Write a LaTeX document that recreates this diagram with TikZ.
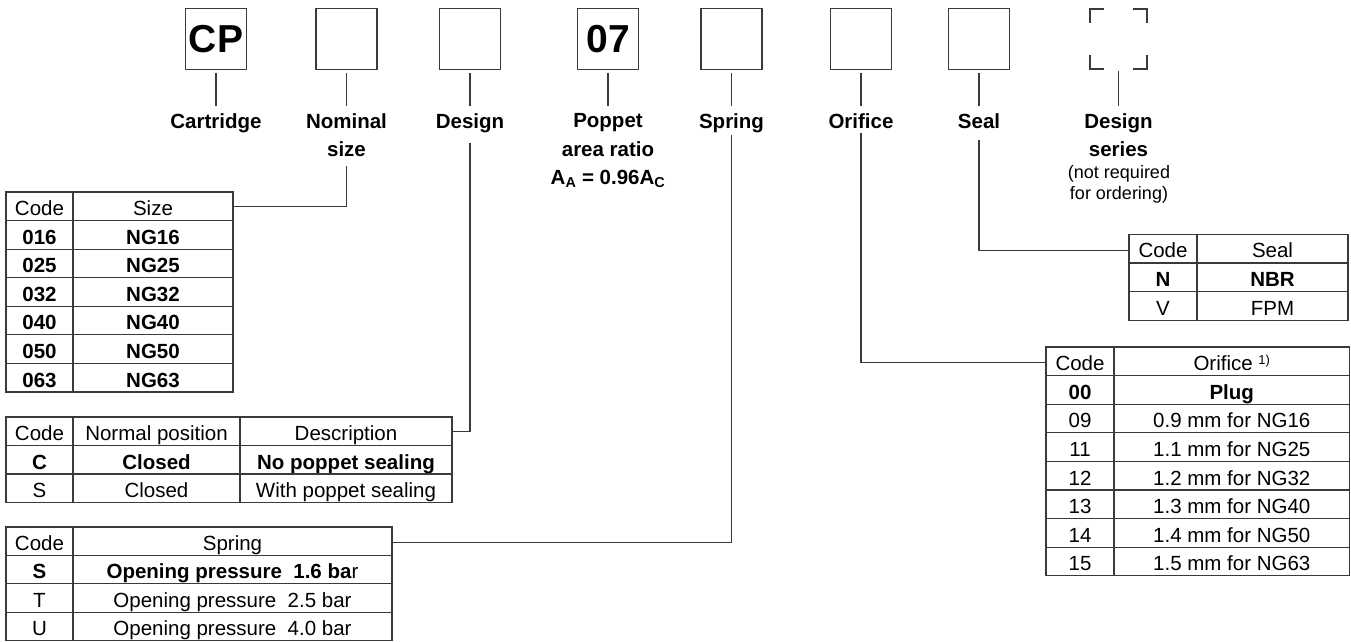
\documentclass[tikz,border=0pt]{standalone}
\usepackage{fontspec}
\setmainfont{Liberation Sans}
\definecolor{lc}{HTML}{3A3A3A}
\tikzset{
  conn/.style={draw=lc, line width=1.2pt},
  codebox/.style={draw=lc, line width=1.3pt, minimum width=61pt, minimum height=61pt, inner sep=0pt, outer sep=0pt, font=\fontsize{39}{40}\selectfont\bfseries},
  openbox/.style={minimum width=57pt, minimum height=60pt, inner sep=0pt, outer sep=0pt},
  lbl/.style={anchor=north, inner sep=0pt, align=center, font=\fontsize{20.5}{28.5}\selectfont\bfseries},
  note/.style={anchor=north, inner sep=0pt, align=center, font=\fontsize{18}{21}\selectfont},
  cell/.style={draw=lc, line width=1.2pt, anchor=north west, inner sep=0pt, outer sep=0pt, minimum height=28.6pt, text height=18.6pt, text depth=0pt, font=\fontsize{20.5}{24}\selectfont},
  bcell/.style={cell, font=\fontsize{20.5}{24}\selectfont\bfseries},
}
\begin{document}
\begin{tikzpicture}[x=1pt, y=-1pt]
\path[fill=white, use as bounding box] (0,0) rectangle (1351,641);

% ---- top code boxes
\node[codebox] (bcp)   at (216,39)   {CP};
\node[codebox] (bnom)  at (346.5,39) {};
\node[codebox] (bdes)  at (470,39)   {};
\node[codebox] (b07)   at (608,39)   {07};
\node[codebox] (bspr)  at (731.5,39) {};
\node[codebox] (bori)  at (861,39)   {};
\node[codebox] (bseal) at (979,39) {};
\node[openbox] (ds)    at (1118.5,39) {};
\draw[conn] ([yshift=-14pt]ds.north west) -- (ds.north west) -- ([xshift=14pt]ds.north west);
\draw[conn] ([yshift=-14pt]ds.north east) -- (ds.north east) -- ([xshift=-14pt]ds.north east);
\draw[conn] ([yshift=14pt]ds.south west) -- (ds.south west) -- ([xshift=14pt]ds.south west);
\draw[conn] ([yshift=14pt]ds.south east) -- (ds.south east) -- ([xshift=-14pt]ds.south east);

% ---- labels
\node[lbl] (lcart) at (216,113.3)   {Cartridge};
\node[lbl] (lnom)  at (346.5,113.3) {Nominal\\size};
\node[lbl] (ldes)  at (470,113.3)   {Design};
\node[lbl] (lpop)  at (608,113.3)   {Poppet\\area ratio\\A\textsubscript{A} = 0.96A\textsubscript{C}};
\node[lbl] (lspr)  at (731.5,113.3) {Spring};
\node[lbl] (lori)  at (861,113.3)   {Orifice};
\node[lbl] (lseal) at (979,113.3) {Seal};
\node[lbl] (lds)   at (1118.5,113.3) {Design\\series};
\node[note] (lnote) at (1119,165)  {(not required\\for ordering)};

% ---- short connectors box -> label
\foreach \b/\l in {bcp/lcart, bnom/lnom, bdes/ldes, b07/lpop, bspr/lspr, bori/lori, bseal/lseal}
  \draw[conn, shorten <=3pt, shorten >=7pt] (\b) -- (\l);
\draw[conn, shorten <=1.5pt, shorten >=7pt] (ds) -- (lds);

% ---- Size table
\node[cell, minimum width=67pt]  (sz-0-1) at (6,192)  {Code};
\node[cell, minimum width=160pt] (sz-0-2) at (73,192) {Size};
\foreach \c/\n [count=\i] in {016/16, 025/25, 032/32, 040/40, 050/50, 063/63} {
  \node[bcell, minimum width=67pt]  (sz-\i-1) at (6,{192+\i*28.57})  {\c};
  \node[bcell, minimum width=160pt] (sz-\i-2) at (73,{192+\i*28.57}) {NG\n};
}

% ---- Design table
\node[cell, minimum width=67pt,  minimum height=28.5pt] (de-0-1) at (6,417)   {Code};
\node[cell, minimum width=167pt, minimum height=28.5pt] (de-0-2) at (73,417)  {Normal position};
\node[cell, minimum width=212pt, minimum height=28.5pt] (de-0-3) at (240,417) {Description};
\node[bcell, minimum width=67pt,  minimum height=28.5pt] (de-1-1) at (6,445.5)   {C};
\node[bcell, minimum width=167pt, minimum height=28.5pt] (de-1-2) at (73,445.5)  {Closed};
\node[bcell, minimum width=212pt, minimum height=28.5pt] (de-1-3) at (240,445.5) {No poppet sealing};
\node[cell, minimum width=67pt,  minimum height=28.5pt] (de-2-1) at (6,474)   {S};
\node[cell, minimum width=167pt, minimum height=28.5pt] (de-2-2) at (73,474)  {Closed};
\node[cell, minimum width=212pt, minimum height=28.5pt] (de-2-3) at (240,474) {With poppet sealing};

% ---- Spring table
\node[cell, minimum width=67pt,  minimum height=28.4pt] (sp-0-1) at (6,527)  {Code};
\node[cell, minimum width=319pt, minimum height=28.4pt] (sp-0-2) at (73,527) {Spring};
\node[bcell, minimum width=67pt,  minimum height=28.4pt] (sp-1-1) at (6,555.4)  {S};
\node[cell,  minimum width=319pt, minimum height=28.4pt] (sp-1-2) at (73,555.4) {\textbf{Opening pressure\ \ 1.6 ba}r};
\node[cell, minimum width=67pt,  minimum height=28.4pt] (sp-2-1) at (6,583.8)  {T};
\node[cell, minimum width=319pt, minimum height=28.4pt] (sp-2-2) at (73,583.8) {Opening pressure\ \ 2.5 bar};
\node[cell, minimum width=67pt,  minimum height=28.4pt] (sp-3-1) at (6,612.2)  {U};
\node[cell, minimum width=319pt, minimum height=28.4pt] (sp-3-2) at (73,612.2) {Opening pressure\ \ 4.0 bar};

% ---- Seal table
\node[cell, minimum width=68pt,  minimum height=28.6pt] (se-0-1) at (1129,234.3) {Code};
\node[cell, minimum width=151pt, minimum height=28.6pt] (se-0-2) at (1197,234.3) {Seal};
\node[bcell, minimum width=68pt,  minimum height=28.6pt] (se-1-1) at (1129,262.9) {N};
\node[bcell, minimum width=151pt, minimum height=28.6pt] (se-1-2) at (1197,262.9) {NBR};
\node[cell, minimum width=68pt,  minimum height=28.6pt] (se-2-1) at (1129,291.5) {V};
\node[cell, minimum width=151pt, minimum height=28.6pt] (se-2-2) at (1197,291.5) {FPM};

% ---- Orifice table
\node[cell, minimum width=68pt,    minimum height=28.6pt] (or-0-1) at (1046,347) {Code};
\node[cell, minimum width=235.5pt, minimum height=28.6pt] (or-0-2) at (1114,347) {Orifice {\fontsize{13}{14}\selectfont\raisebox{6pt}{1)}}};
\node[bcell, minimum width=68pt,    minimum height=28.6pt] (or-1-1) at (1046,375.6) {00};
\node[bcell, minimum width=235.5pt, minimum height=28.6pt] (or-1-2) at (1114,375.6) {Plug};
\foreach \c/\d/\n [count=\i from 2] in {09/0.9/16, 11/1.1/25, 12/1.2/32, 13/1.3/40, 14/1.4/50, 15/1.5/63} {
  \node[cell, minimum width=68pt,    minimum height=28.6pt] (or-\i-1) at (1046,{347+\i*28.6}) {\c};
  \node[cell, minimum width=235.5pt, minimum height=28.6pt] (or-\i-2) at (1114,{347+\i*28.6}) {\d\ mm for NG\n};
}

% ---- connectors label -> table
\draw[conn, shorten <=8.5pt] (lnom.south)  |- (sz-0-2.east);
\draw[conn, shorten <=10pt]  (ldes.south)  |- (de-0-3.east);
\draw[conn, shorten <=2pt]   (lspr.south)  |- ([yshift=-1.5pt]sp-0-2.east);
\draw[conn, shorten <=4pt]   (lori.south)  |- ([yshift=-1.5pt]or-0-1.west);
\draw[conn, shorten <=11pt]  (lseal.south) |- ([yshift=-2pt]se-0-1.west);
\end{tikzpicture}
\end{document}
